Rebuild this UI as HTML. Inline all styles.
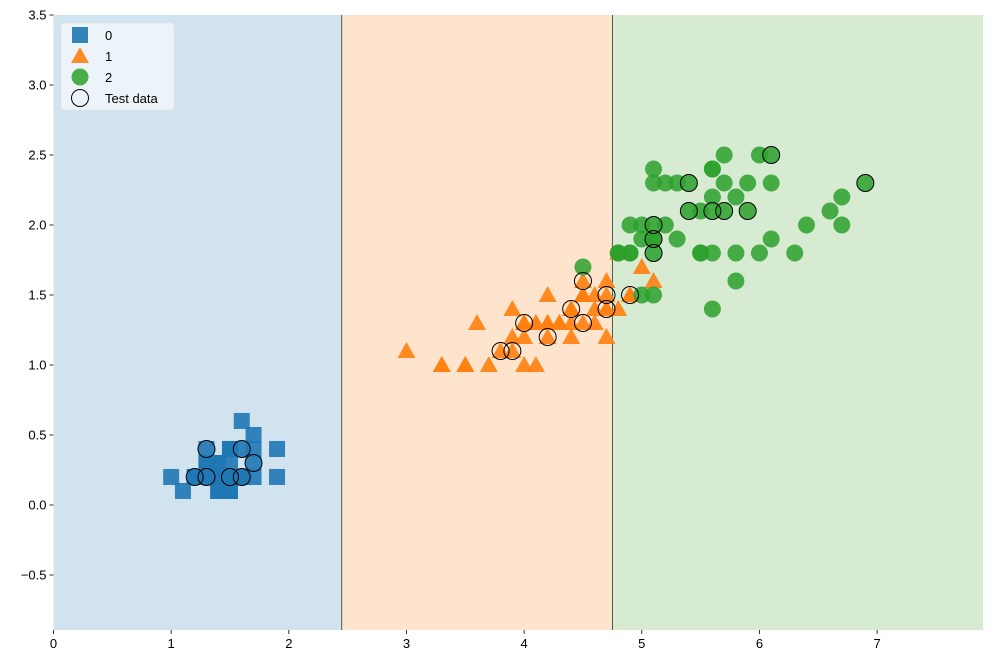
<!DOCTYPE html>
<html><head><meta charset="utf-8"><style>
body{margin:0;background:#fff}
svg text{font-family:"Liberation Sans","DejaVu Sans",sans-serif;font-size:13px;fill:#000}
</style></head><body>
<svg id="chart" width="993" height="665" xmlns="http://www.w3.org/2000/svg">
<g id="bg"></g><g id="pts"></g><g id="axes"></g><g id="legend"></g>
</svg>
<script>
const xTicks=[0,1,2,3,4,5,6,7];
const yTicks=[-0.5,0,0.5,1,1.5,2,2.5,3,3.5];
const yTickLabels=["\u22120.5","0.0","0.5","1.0","1.5","2.0","2.5","3.0","3.5"];
const boundaries=[2.45,4.75];
const class0=[[1.4,.2],[1.4,.2],[1.3,.2],[1.5,.2],[1.4,.2],[1.7,.4],[1.4,.3],[1.5,.2],[1.4,.2],[1.5,.1],[1.5,.2],[1.6,.2],[1.4,.1],[1.1,.1],[1.2,.2],[1.5,.4],[1.3,.4],[1.4,.3],[1.7,.3],[1.5,.3],[1.7,.2],[1.5,.4],[1.0,.2],[1.7,.5],[1.9,.2],[1.6,.2],[1.6,.4],[1.5,.2],[1.4,.2],[1.6,.2],[1.6,.2],[1.5,.4],[1.5,.1],[1.4,.2],[1.5,.2],[1.2,.2],[1.3,.2],[1.4,.1],[1.3,.2],[1.5,.2],[1.3,.3],[1.3,.3],[1.3,.2],[1.6,.6],[1.9,.4],[1.4,.3],[1.6,.2],[1.4,.2],[1.5,.2],[1.4,.2]];
const class1=[[4.7,1.4],[4.5,1.5],[4.9,1.5],[4.0,1.3],[4.6,1.5],[4.5,1.3],[4.7,1.6],[3.3,1.0],[4.6,1.3],[3.9,1.4],[3.5,1.0],[4.2,1.5],[4.0,1.0],[4.7,1.4],[3.6,1.3],[4.4,1.4],[4.5,1.5],[4.1,1.0],[4.5,1.5],[3.9,1.1],[4.8,1.8],[4.0,1.3],[4.9,1.5],[4.7,1.2],[4.3,1.3],[4.4,1.4],[4.8,1.4],[5.0,1.7],[4.5,1.5],[3.5,1.0],[3.8,1.1],[3.7,1.0],[3.9,1.2],[5.1,1.6],[4.5,1.5],[4.5,1.6],[4.7,1.5],[4.4,1.3],[4.1,1.3],[4.0,1.3],[4.4,1.2],[4.6,1.4],[4.0,1.2],[3.3,1.0],[4.2,1.3],[4.2,1.2],[4.2,1.3],[4.3,1.3],[3.0,1.1],[4.1,1.3]];
const class2=[[6.0,2.5],[5.1,1.9],[5.9,2.1],[5.6,1.8],[5.8,2.2],[6.6,2.1],[4.5,1.7],[6.3,1.8],[5.8,1.8],[6.1,2.5],[5.1,2.0],[5.3,1.9],[5.5,2.1],[5.0,2.0],[5.1,2.4],[5.3,2.3],[5.5,1.8],[6.7,2.2],[6.9,2.3],[5.0,1.5],[5.7,2.3],[4.9,2.0],[6.7,2.0],[4.9,1.8],[5.7,2.1],[6.0,1.8],[4.8,1.8],[4.9,1.8],[5.6,2.1],[5.8,1.6],[6.1,1.9],[6.4,2.0],[5.6,2.2],[5.1,1.5],[5.6,1.4],[6.1,2.3],[5.6,2.4],[5.5,1.8],[4.8,1.8],[5.4,2.1],[5.6,2.4],[5.1,2.3],[5.1,1.9],[5.9,2.3],[5.7,2.5],[5.2,2.3],[5.0,1.9],[5.2,2.0],[5.4,2.3],[5.1,1.8]];
const testData=[[1.3,.4],[1.2,.2],[1.3,.2],[1.5,.2],[1.6,.2],[1.6,.4],[1.7,.3],[3.8,1.1],[3.9,1.1],[4.0,1.3],[4.2,1.2],[4.4,1.4],[4.5,1.3],[4.5,1.6],[4.7,1.5],[4.7,1.4],[4.9,1.5],[5.1,1.8],[5.1,1.9],[5.1,2.0],[5.4,2.3],[5.4,2.1],[5.6,2.1],[5.7,2.1],[5.9,2.1],[6.1,2.5],[6.9,2.3]];

const X0=53.5,X1=983,Y0=15,Y1=630,xmin=0,xmax=7.9,ymin=-0.893,ymax=3.5;
const sx=v=>X0+(v-xmin)/(xmax-xmin)*(X1-X0);
const sy=v=>Y1-(v-ymin)/(ymax-ymin)*(Y1-Y0);
const NS="http://www.w3.org/2000/svg";
function mk(p,t,a){const e=document.createElementNS(NS,t);for(const k in a)e.setAttribute(k,a[k]);p.appendChild(e);return e;}
const bg=document.getElementById('bg'),pts=document.getElementById('pts'),ax=document.getElementById('axes'),lg=document.getElementById('legend');
const regCols=['#d0e3ef','#fee4cc','#d7ebd3'];
const edges=[xmin,...boundaries,xmax];
for(let i=0;i<3;i++){const r=mk(bg,'rect',{x:sx(edges[i]),y:Y0,width:sx(edges[i+1])-sx(edges[i]),height:Y1-Y0,fill:regCols[i]});

}
boundaries.forEach(b=>{const l=mk(bg,'line',{x1:sx(b),x2:sx(b),y1:Y0,y2:Y1,stroke:'#333','stroke-width':0.8});

});
const C0='#1f77b4',C1='#ff7f0e',C2='#2ca02c';
function sq(p,x,y){return mk(p,'rect',{x:x-8,y:y-8,width:16,height:16,fill:C0,'fill-opacity':0.9});}
function tri(p,x,y){return mk(p,'polygon',{points:`${x},${y-9} ${x+9},${y+7} ${x-9},${y+7}`,fill:C1,'fill-opacity':0.9});}
function dot(p,x,y){return mk(p,'circle',{cx:x,cy:y,r:8.5,fill:C2,'fill-opacity':0.85});}
function ring(p,x,y){return mk(p,'circle',{cx:x,cy:y,r:8.5,fill:'none',stroke:'#000','stroke-width':1});}
class0.forEach(d=>{const e=sq(pts,sx(d[0]),sy(d[1]));});
class1.forEach(d=>{const e=tri(pts,sx(d[0]),sy(d[1]));});
class2.forEach(d=>{const e=dot(pts,sx(d[0]),sy(d[1]));});
testData.forEach(d=>{const e=ring(pts,sx(d[0]),sy(d[1]));});
xTicks.forEach(t=>{const x=sx(t);mk(ax,'line',{x1:x,x2:x,y1:Y1,y2:Y1+4,stroke:'#000','stroke-width':0.8});
const tx=mk(ax,'text',{x:x,y:Y1+18,'text-anchor':'middle'});tx.textContent=t;

});
yTicks.forEach((t,i)=>{const y=sy(t);mk(ax,'line',{x1:X0-4,x2:X0,y1:y,y2:y,stroke:'#000','stroke-width':0.8});
const tx=mk(ax,'text',{x:X0-7,y:y+4.5,'text-anchor':'end'});tx.textContent=yTickLabels[i];

});
const box=mk(lg,'rect',{x:61,y:23,width:113,height:87,rx:3,fill:'#fff','fill-opacity':0.6,stroke:'#ddd','stroke-opacity':0.6});


const items=[['0',sq,35],['1',tri,56],['2',dot,77],['Test data',ring,98]];
items.forEach(it=>{const g=mk(lg,'g',{});
it[1](g,80,it[2]);const t=mk(g,'text',{x:105,y:it[2]+5});t.textContent=it[0];});
</script>
</body></html>
